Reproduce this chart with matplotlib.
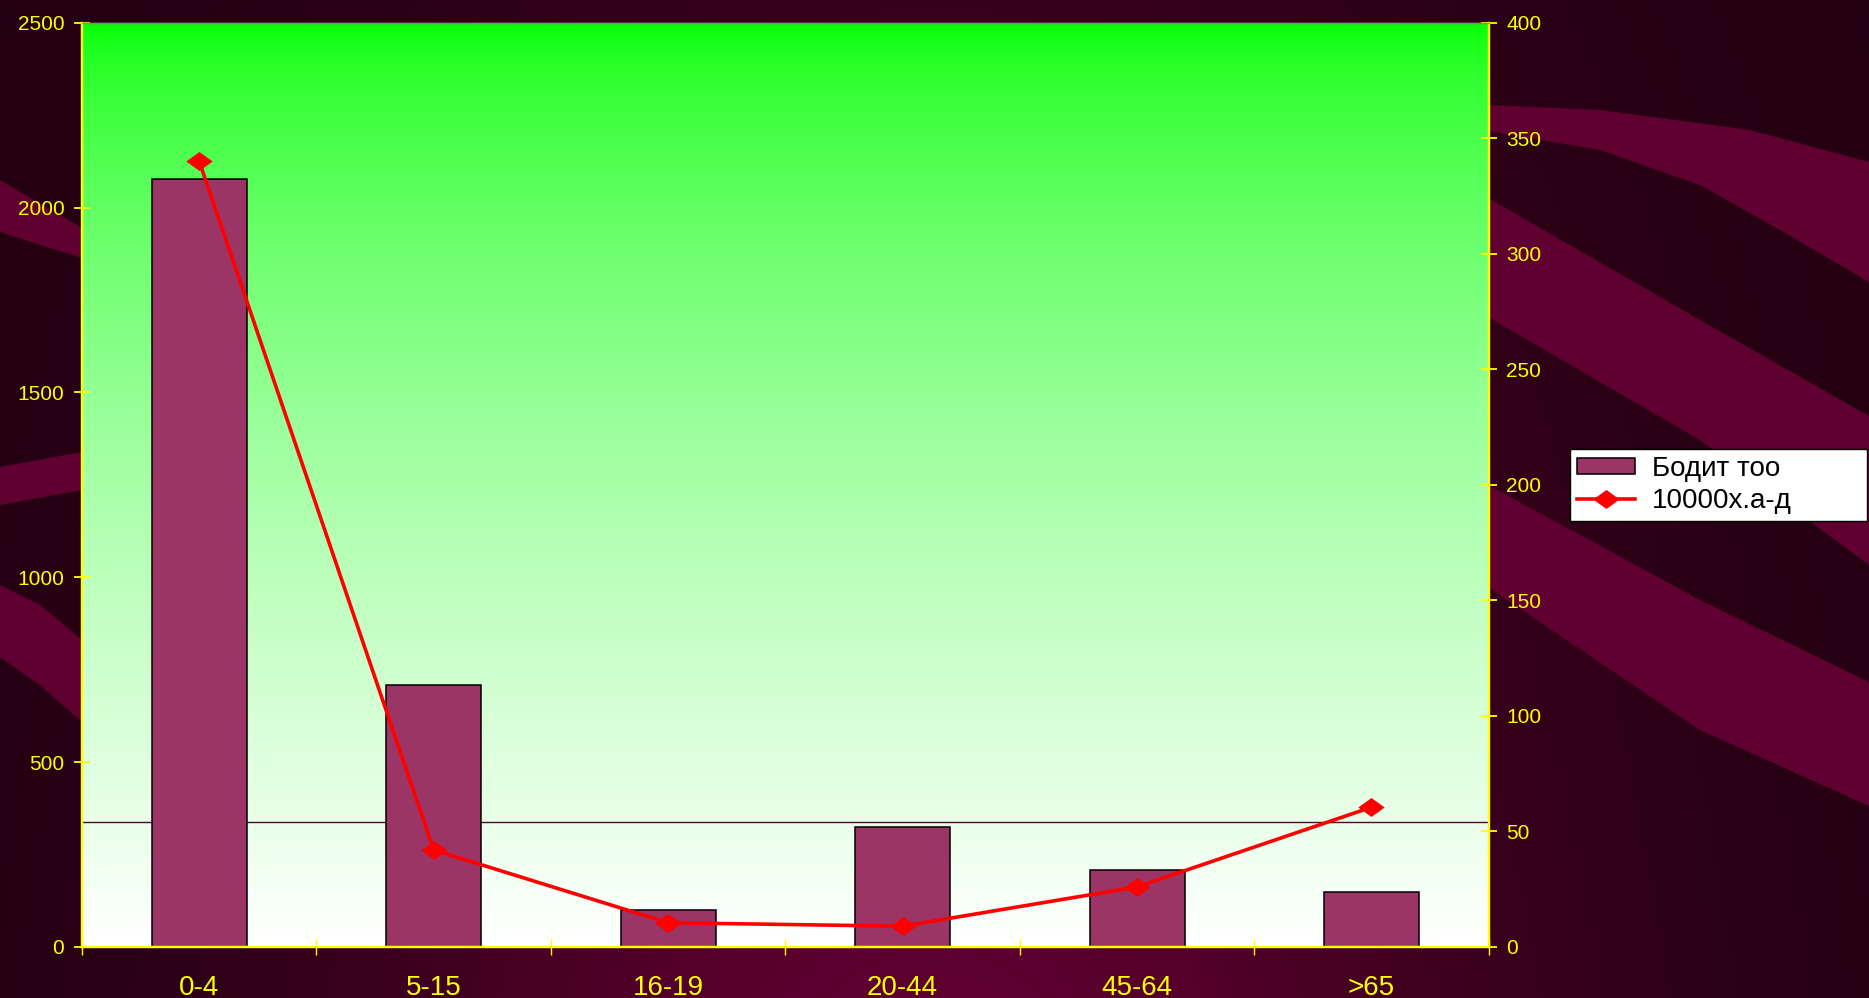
import numpy as np
import matplotlib as mpl
import matplotlib.pyplot as plt
from matplotlib.path import Path
from matplotlib.patches import Polygon

# Data
age_groups = ['0-4', '5-15', '16-19', '20-44', '45-64', '>65']
cases = [2078, 708, 100, 325, 208, 150]          # bars, left axis
rate_per_10000 = [340, 42, 10.5, 9, 26, 60.5]     # line, right axis
reference_level = 338                              # thin horizontal line, left axis

W, H = 1869, 998
fig = plt.figure(figsize=(W / 100, H / 100), dpi=100)
mpl.rcParams['font.family'] = ['Liberation Sans', 'DejaVu Sans']

yellow = '#ffff00'
bar_color = '#9b3566'
band_color = '#600030'

# ---- background (dark maroon with waves) ----
bg = fig.add_axes([0, 0, 1, 1], zorder=-10)
bg.set_xlim(0, W)
bg.set_ylim(H, 0)
bg.axis('off')
xx = np.linspace(0, 1, 400)[None, :]
yy = np.linspace(0, 1, 200)[:, None]
glow = np.exp(-((xx - 0.5) / 0.32) ** 2) * (0.35 + 0.65 * yy)
dark = np.array([0x22, 0x00, 0x10]) / 255
bright = np.array([0x5e, 0x00, 0x30]) / 255
img = dark + (bright - dark) * glow[..., None]
bg.imshow(img, extent=[0, W, H, 0], aspect='auto', zorder=0)

bands = [
    # (top edge, bottom edge) in figure pixels
    ([(0, 180), (82, 228)], [(82, 258), (0, 232)]),
    ([(0, 467), (82, 452)], [(82, 490), (0, 505)]),
    ([(0, 585), (40, 605), (82, 640)], [(82, 722), (40, 685), (0, 657)]),
    ([(1488, 105), (1600, 110), (1750, 130), (1869, 162)],
     [(1869, 282), (1780, 230), (1700, 185), (1600, 150), (1488, 131)]),
    ([(1488, 198), (1700, 320), (1869, 416)], [(1869, 565), (1700, 440), (1488, 317)]),
    ([(1488, 485), (1700, 600), (1869, 682)], [(1869, 806), (1700, 730), (1488, 587)]),
]
for top, bottom in bands:
    bg.add_patch(Polygon(top + bottom, closed=True, facecolor=band_color,
                         edgecolor='none', zorder=1))

# ---- plot area ----
left, right = 82 / W, 1488.7 / W
bottom, top = 1 - 947 / H, 1 - 22.7 / H
rect = [left, bottom, right - left, top - bottom]

grad_ax = fig.add_axes(rect, zorder=-5)
grad_ax.axis('off')
t = np.linspace(0, 1, 512)[:, None]
rb = t ** 0.6
grad = np.dstack([rb, np.ones_like(rb), rb])
grad_ax.imshow(grad, extent=[0, 1, 0, 1], aspect='auto')
grad_ax.set_xlim(0, 1)
grad_ax.set_ylim(0, 1)

ax1 = fig.add_axes(rect)
ax1.patch.set_visible(False)
x = np.arange(len(age_groups))
ax1.axhline(reference_level, color='#4a0a2a', lw=1, zorder=1)
ax1.bar(x, cases, width=0.405, color=bar_color, edgecolor='black',
        linewidth=1.1, label='Бодит тоо', zorder=2)
ax1.set_xlim(-0.5, len(age_groups) - 0.5)
ax1.set_ylim(0, 2500)
ax1.set_yticks(np.arange(0, 2501, 500))

ax2 = ax1.twinx()
diamond = Path([(-1, 0), (0, 0.72), (1, 0), (0, -0.72), (-1, 0)],
               [Path.MOVETO, Path.LINETO, Path.LINETO, Path.LINETO, Path.CLOSEPOLY])
ax2.plot(x, rate_per_10000, color='#ff0000', lw=2.6, marker=diamond,
         markersize=19, markeredgewidth=0, label='10000х.а-д', zorder=3)
ax2.set_ylim(0, 400)
ax2.set_yticks(np.arange(0, 401, 50))

for ax in (ax1, ax2):
    for side in ('left', 'right', 'bottom'):
        ax.spines[side].set_color(yellow)
        ax.spines[side].set_linewidth(1.6)
    ax.spines['top'].set_color('#888888')
    ax.spines['top'].set_linewidth(1)

ax1.set_xticks(x)
ax1.set_xticklabels(age_groups)
ax1.set_xticks(np.arange(-0.5, len(age_groups)), minor=True)
ax1.tick_params(axis='x', which='major', length=0, pad=20,
                labelsize=20, labelcolor=yellow)
ax1.tick_params(axis='x', which='minor', direction='inout', length=11.5,
                width=1, color=yellow)
ax1.tick_params(axis='y', direction='inout', length=11.5, width=1.3,
                color=yellow, labelcolor=yellow, labelsize=15, pad=7)
ax2.tick_params(axis='y', direction='inout', length=11.5, width=1.3,
                color=yellow, labelcolor=yellow, labelsize=15, pad=7)

h1, l1 = ax1.get_legend_handles_labels()
h2, l2 = ax2.get_legend_handles_labels()
leg = fig.legend(h1 + h2, l1 + l2, loc='upper left',
                 bbox_to_anchor=(1570 / W, 1 - 521 / H, (1867 - 1570) / W, 72 / H),
                 mode='expand', fontsize=20, frameon=True, fancybox=False,
                 framealpha=1, edgecolor='black', borderpad=0.25,
                 labelspacing=0.22, handlelength=2.1, handleheight=0.5,
                 handletextpad=0.6, borderaxespad=0)
leg.get_frame().set_linewidth(1)

fig.savefig('out.png', dpi=100)
